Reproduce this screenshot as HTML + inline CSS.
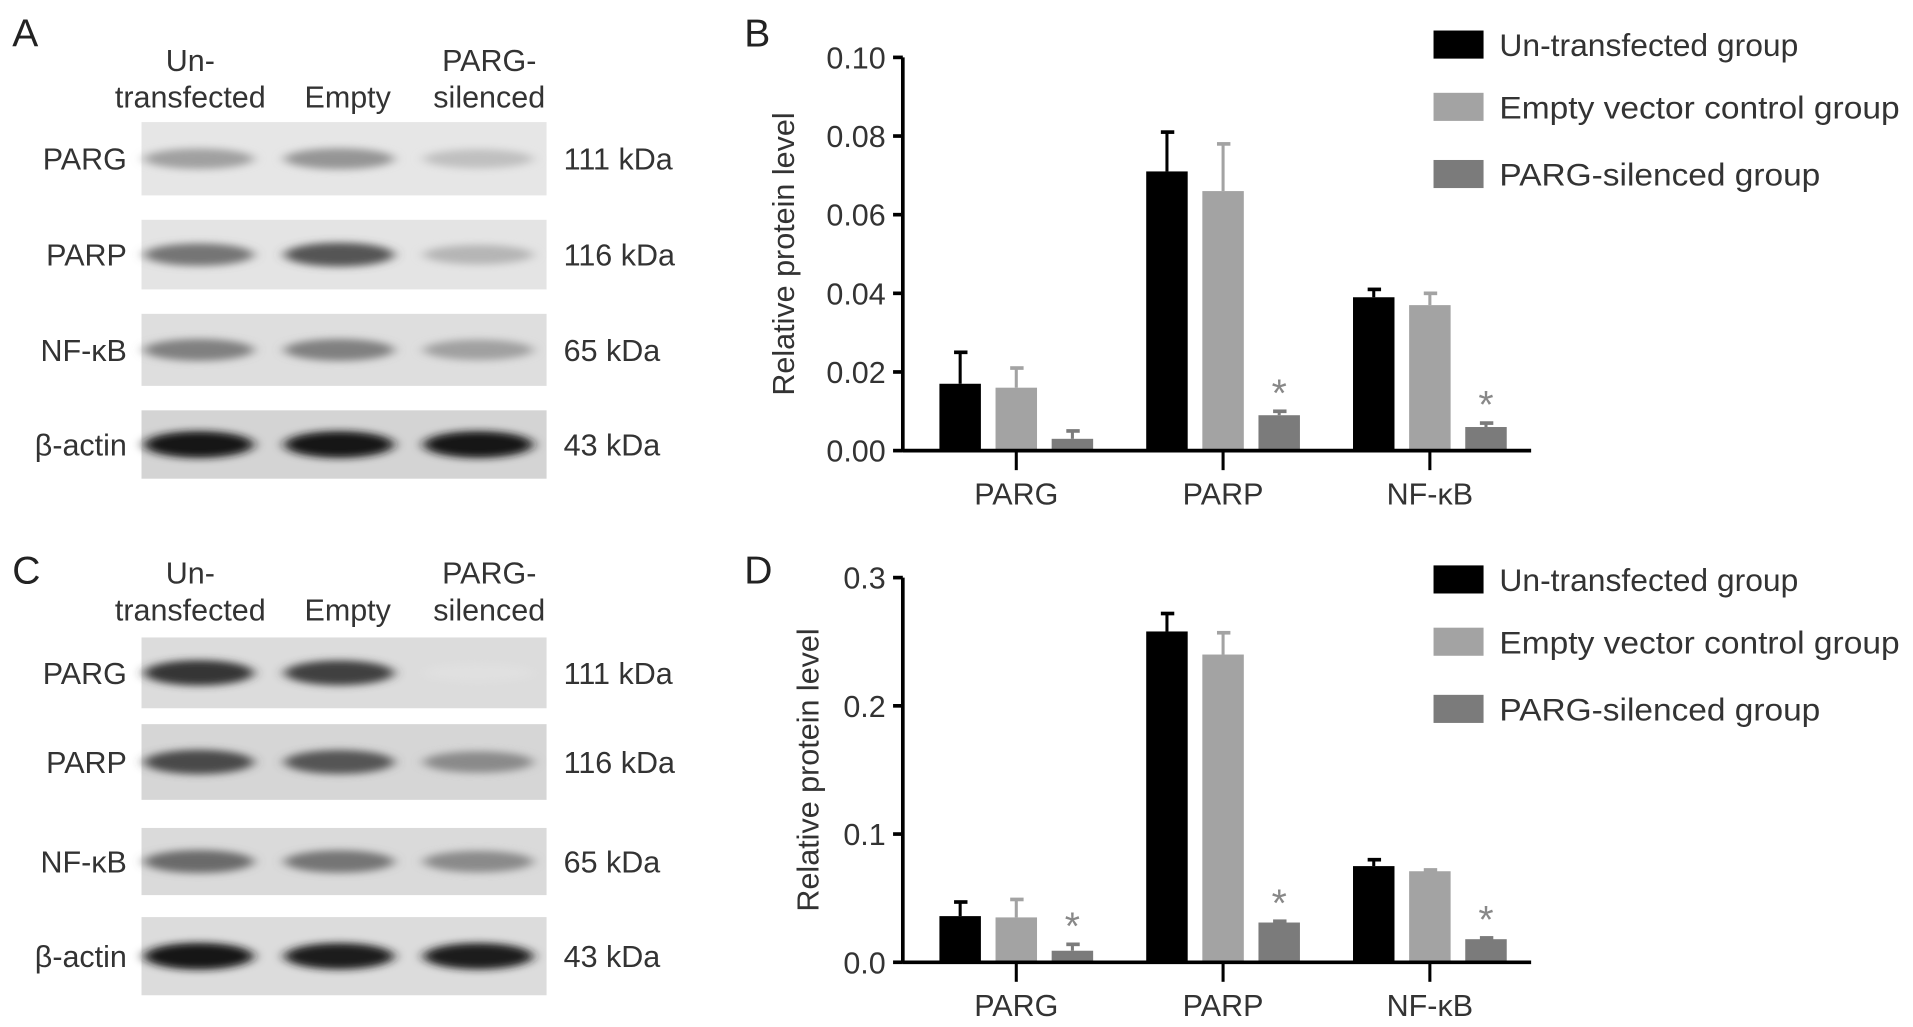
<!DOCTYPE html>
<html><head><meta charset="utf-8"><style>
html,body{margin:0;padding:0;background:#fff;}
svg{display:block;}
text{font-family:"Liberation Sans",Arial,sans-serif;}
</style></head>
<body>
<svg id="fig" width="1913" height="1027" viewBox="0 0 1568 841" preserveAspectRatio="none" xmlns="http://www.w3.org/2000/svg">
<defs>
<filter id="blur" x="-20%" y="-50%" width="140%" height="200%"><feGaussianBlur stdDeviation="5 3"/></filter>
</defs>
<g id="blots"></g>
<g id="chartB"></g>
<g id="chartD"></g>
</svg>
<script>
// ---- Chart data ----
const categories = ["PARG", "PARP", "NF-\u03baB"];
const groups = ["Un-transfected group", "Empty vector control group", "PARG-silenced group"];
const bValues = [[0.017, 0.016, 0.003], [0.071, 0.066, 0.009], [0.039, 0.037, 0.006]];
const bErrors = [[0.008, 0.005, 0.002], [0.010, 0.012, 0.001], [0.002, 0.003, 0.001]];
const bStars = [[false, false, false], [false, false, true], [false, false, true]];
const bTicks = ["0.00", "0.02", "0.04", "0.06", "0.08", "0.10"];
const dValues = [[0.036, 0.035, 0.009], [0.258, 0.240, 0.031], [0.075, 0.071, 0.018]];
const dErrors = [[0.011, 0.014, 0.005], [0.014, 0.017, 0.001], [0.005, 0.001, 0.001]];
const dStars = [[false, false, true], [false, false, true], [false, false, true]];
const dTicks = ["0.0", "0.1", "0.2", "0.3"];

const NS = "http://www.w3.org/2000/svg";
function mk(parent, tag, attrs, txt) {
  const e = document.createElementNS(NS, tag);
  for (const k in attrs) e.setAttribute(k, attrs[k]);
  if (txt !== undefined) e.textContent = txt;
  parent.appendChild(e);
  return e;
}
const colors = ["#000000", "#a3a3a3", "#7b7b7b"];

function drawChart(g, top, bottom, ymax, values, errors, stars, ticks, panel) {
  const x0 = 740, x1 = 1255;
  const y = v => bottom - (v / ymax) * (bottom - top);
  const catX = i => 833 + i * 169.5;
  const barW = 34, off = 46;
  let ax = mk(g, "line", {x1: x0, y1: top, x2: x0, y2: bottom + 1, stroke: "#000", "stroke-width": 3});
  
  
  ticks.forEach((t, i) => {
    const v = parseFloat(t);
    const ty = y(v);
    mk(g, "line", {x1: x0 - 8, y1: ty, x2: x0, y2: ty, stroke: "#000", "stroke-width": 3});
    const lab = mk(g, "text", {x: x0 - 14, y: ty + 9, "text-anchor": "end", "font-size": 25, fill: "#333"}, t);
    
    
  });
  const title = mk(g, "text", {x: 0, y: 0, "text-anchor": "middle", "font-size": 25, fill: "#333",
    transform: `translate(${panel === "B" ? 651 : 671},${(top + bottom) / 2}) rotate(-90)`}, "Relative protein level");
  
  
  values.forEach((grp, ci) => {
    grp.forEach((v, si) => {
      const cx = catX(ci) + (si - 1) * off;
      const ey = y(v + errors[ci][si]);
      mk(g, "line", {x1: cx, y1: y(v), x2: cx, y2: ey, stroke: colors[si], "stroke-width": 2.5});
      mk(g, "line", {x1: cx - 5, y1: ey, x2: cx + 6, y2: ey, stroke: colors[si], "stroke-width": 3});
      const r = mk(g, "rect", {x: cx - barW / 2, y: y(v), width: barW, height: bottom - y(v), fill: colors[si]});
      
      
      if (stars[ci][si]) {
        const s = mk(g, "text", {x: cx, y: ey - 4, "text-anchor": "middle", "font-size": 32, fill: "#888"}, "*");
        
        
      }
    });
    mk(g, "line", {x1: catX(ci), y1: bottom, x2: catX(ci), y2: bottom + 16, stroke: "#000", "stroke-width": 2.5});
    const cl = mk(g, "text", {x: catX(ci), y: bottom + 44, "text-anchor": "middle", "font-size": 25, fill: "#333"}, categories[ci]);
    
    
  });
  const xa = mk(g, "line", {x1: x0, y1: bottom, x2: x1, y2: bottom, stroke: "#000", "stroke-width": 3});
  
  
  const legTop = panel === "B" ? 25 : 463;
  const legSteps = [0, 51, 106];
  groups.forEach((name, i) => {
    const ly = legTop + legSteps[i];
    const sw = mk(g, "rect", {x: 1175, y: ly, width: 41, height: 23, fill: colors[i]});
    
    
    const lt = mk(g, "text", {x: 1229, y: ly + 21, "font-size": 26, fill: "#333", textLength: [245, 328, 263][i], lengthAdjust: "spacingAndGlyphs"}, name);
    
    
  });
  const pl = mk(g, "text", {x: 610, y: panel === "B" ? 38 : 478, "font-size": 32, fill: "#222"}, panel);
  
  
}
drawChart(document.getElementById("chartB"), 47, 369, 0.10, bValues, bErrors, bStars, bTicks, "B");
drawChart(document.getElementById("chartD"), 473, 788, 0.3, dValues, dErrors, dStars, dTicks, "D");

// ---- Western blots ----
const blotRowsA = [
  {label: "PARG", kda: "111 kDa", y: 100, h: 60, bg: "#e6e6e6", dens: [0.35, 0.4, 0.2]},
  {label: "PARP", kda: "116 kDa", y: 180, h: 57, bg: "#e4e4e4", dens: [0.55, 0.7, 0.25]},
  {label: "NF-\u03baB", kda: "65 kDa", y: 257, h: 59, bg: "#dedede", dens: [0.5, 0.5, 0.35]},
  {label: "\u03b2-actin", kda: "43 kDa", y: 336, h: 56, bg: "#d4d4d4", dens: [1, 1, 1]}
];
const blotRowsC = [
  {label: "PARG", kda: "111 kDa", y: 522, h: 58, bg: "#dcdcdc", dens: [0.85, 0.8, 0.05]},
  {label: "PARP", kda: "116 kDa", y: 593, h: 62, bg: "#d6d6d6", dens: [0.75, 0.7, 0.45]},
  {label: "NF-\u03baB", kda: "65 kDa", y: 678, h: 55, bg: "#dadada", dens: [0.6, 0.55, 0.45]},
  {label: "\u03b2-actin", kda: "43 kDa", y: 751, h: 64, bg: "#dcdcdc", dens: [1, 0.95, 0.95]}
];
const blots = document.getElementById("blots");
function drawBlots(rows, headerY, panel, labelY) {
  const lanes = [163, 278, 392];
  const p = mk(blots, "text", {x: 10, y: labelY, "font-size": 32, fill: "#222"}, panel);
  
  
  [["Un-", "transfected"], ["", "Empty"], ["PARG-", "silenced"]].forEach((l, i) => {
    const cx = i === 0 ? 156 : (i === 1 ? 285 : 401);
    if (l[0]) mk(blots, "text", {x: cx, y: headerY - 30, "text-anchor": "middle", "font-size": 25, fill: "#333"}, l[0]);
    const t = mk(blots, "text", {x: cx, y: headerY, "text-anchor": "middle", "font-size": 25, fill: "#333"}, l[1]);
    
    
  });
  rows.forEach(r => {
    const g = mk(blots, "g", {});
    
    
    mk(g, "rect", {x: 116, y: r.y, width: 332, height: r.h, fill: r.bg});
    r.dens.forEach((d, i) => {
      const c = Math.round(235 - d * 215);
      mk(g, "ellipse", {cx: lanes[i], cy: r.y + r.h / 2, rx: 45, ry: 7 + d * 4, fill: `rgb(${c},${c},${c})`, filter: "url(#blur)"});
    });
    mk(blots, "text", {x: 104, y: r.y + r.h / 2 + 9, "text-anchor": "end", "font-size": 25, fill: "#333"}, r.label);
    mk(blots, "text", {x: 462, y: r.y + r.h / 2 + 9, "font-size": 25, fill: "#333"}, r.kda);
  });
}
drawBlots(blotRowsA, 88, "A", 38);
drawBlots(blotRowsC, 508, "C", 478);
</script>
</body></html>
